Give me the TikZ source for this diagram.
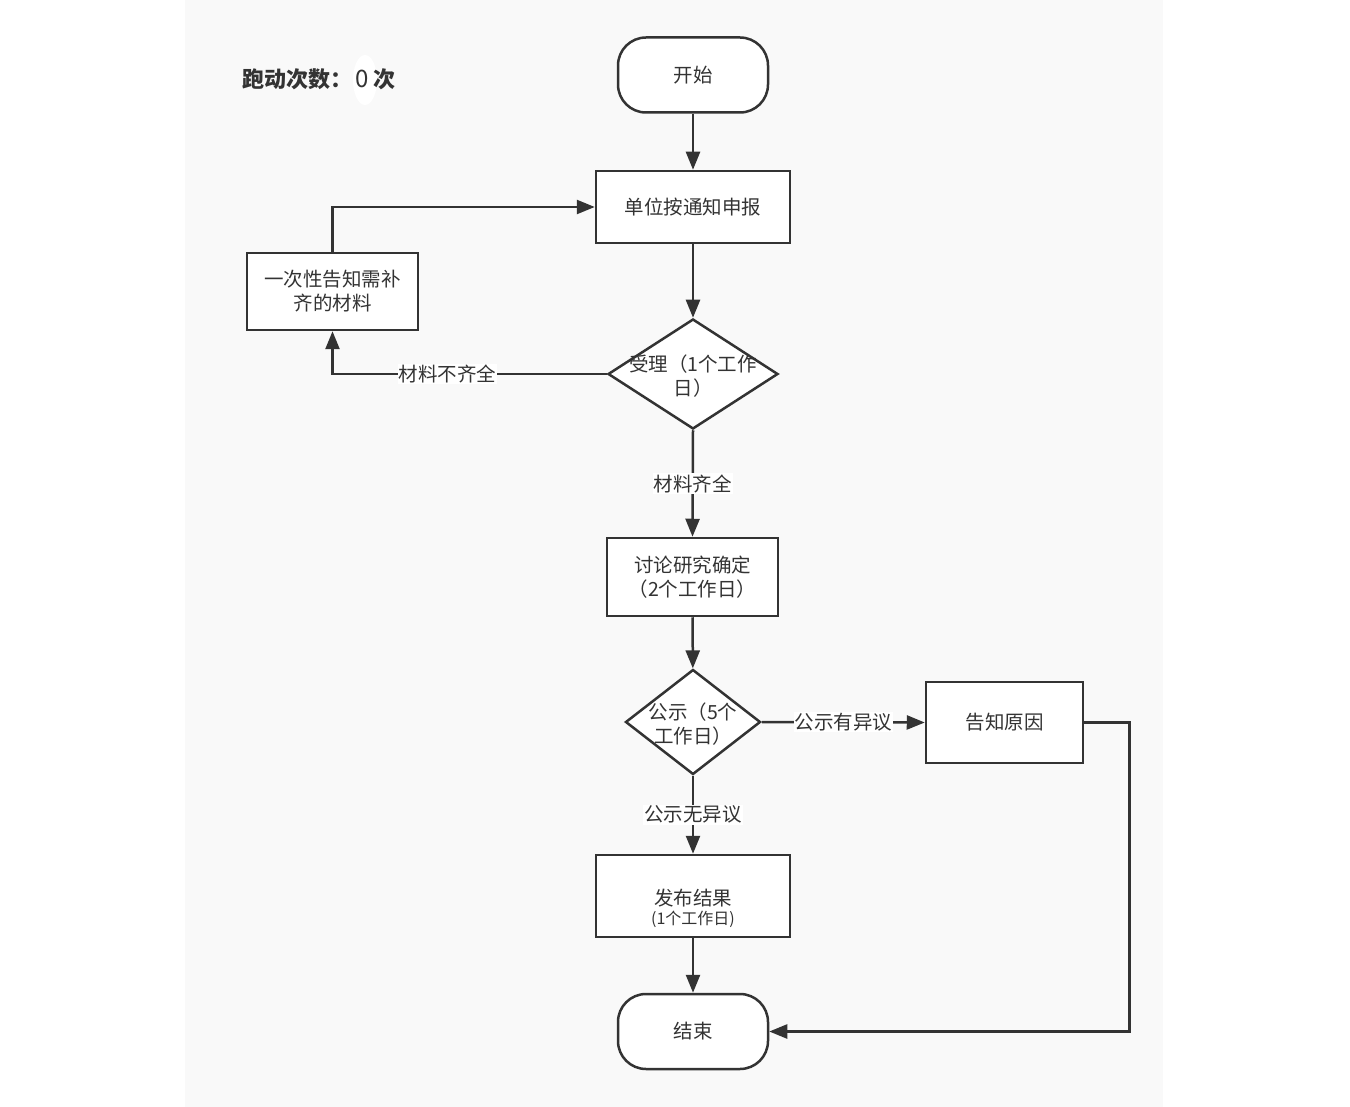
\documentclass[tikz,border=0pt]{standalone}
\usepackage{fontspec}
\setmainfont{Noto Sans CJK SC}
\usetikzlibrary{positioning,calc,arrows.meta,shapes.geometric}

\definecolor{panelgray}{HTML}{F9F9F9}
\definecolor{linegray}{HTML}{333333}
\definecolor{textgray}{HTML}{333333}

\tikzset{
  flow/.style={draw=linegray,line width=2.5pt,-{Triangle[length=18pt,width=14pt]}},
  process/.style={rectangle,draw=linegray,line width=2.5pt,fill=white,align=center,text=textgray},
  terminal/.style={rectangle,rounded corners=28pt,draw=linegray,line width=2.5pt,fill=white,minimum width=150pt,minimum height=75pt,text=textgray},
  decision/.style={diamond,draw=linegray,line width=2.5pt,fill=white,inner sep=0pt},
  edgetext/.style={fill=white,inner sep=1pt,text=textgray},
  boxtext/.style={align=center,text=textgray}
}

\begin{document}
\begin{tikzpicture}[x=1pt,y=-1pt,font=\fontsize{19.5}{24}\selectfont]
        \useasboundingbox (0,0) rectangle (1350,1107);
        \fill[panelgray] (185,0) rectangle (1163,1107);

        % title
        \fill[white] (365,80) ellipse (12 and 25);
        \node[anchor=west,inner sep=0pt,text=textgray,font=\fontsize{22}{26}\selectfont] (title) at (242,79) {\bfseries 跑动次数：\mdseries\hspace{3pt}{\fontsize{24}{26}\selectfont 0}\hspace{5pt}\bfseries 次};

        % nodes
        \node[terminal] (start) at (693,75) {开始};
        \node[process,minimum width=194pt,minimum height=72pt] (report) at (693,207) {单位按通知申报};
        \node[decision,minimum width=170pt,minimum height=110pt] (accept) at (693,374) {};
        \node[boxtext] (accepttext) at ([yshift=-2pt]accept.center) {受理（1个工作\\日）};
        \node[process,minimum width=171pt,minimum height=77pt] (notify) at (332.5,291.5) {一次性告知需补\\齐的材料};
        \node[process,minimum width=171pt,minimum height=78pt] (discuss) at (692.5,577) {讨论研究确定\\（2个工作日）};
        \node[decision,minimum width=135pt,minimum height=105pt] (publicity) at (693,722) {};
        \node[boxtext] (publicitytext) at ([yshift=-2pt]publicity.center) {公示（5个\\工作日）};
        \node[process,minimum width=157pt,minimum height=81pt] (reason) at (1004.5,722.5) {告知原因};
        \node[process,minimum width=194pt,minimum height=82pt] (release) at (693,896) {};
        \node[boxtext] (releasetext) at ([yshift=-12pt]release.center) {发布结果\\[-5pt]{\fontsize{16}{18}\selectfont (1个工作日)}};
        \node[terminal] (finish) at (693,1031.5) {结束};

        % connectors
        \draw[flow] (start) -- (report);
        \draw[flow] (report) -- (accept);
        \draw[flow] (accept.west) -| node[edgetext,pos=0.29] (lackmat) {材料不齐全} (notify.south);
        \draw[flow] (notify.north) |- (report.west);
        \draw[flow] (accept.south) -- node[edgetext] (fullmat) {材料齐全} (discuss.north);
        \draw[flow] (discuss) -- (publicity);
        \draw[flow] (publicity.east) -- node[edgetext] (objection) {公示有异议} (reason.west);
        \draw[flow] (publicity.south) -- node[edgetext] (noobjection) {公示无异议} (release.north);
        \draw[flow] (release) -- (finish);
        \draw[flow] (reason.east) -- ++(45,0) |- (finish.east);
\end{tikzpicture}
\end{document}
